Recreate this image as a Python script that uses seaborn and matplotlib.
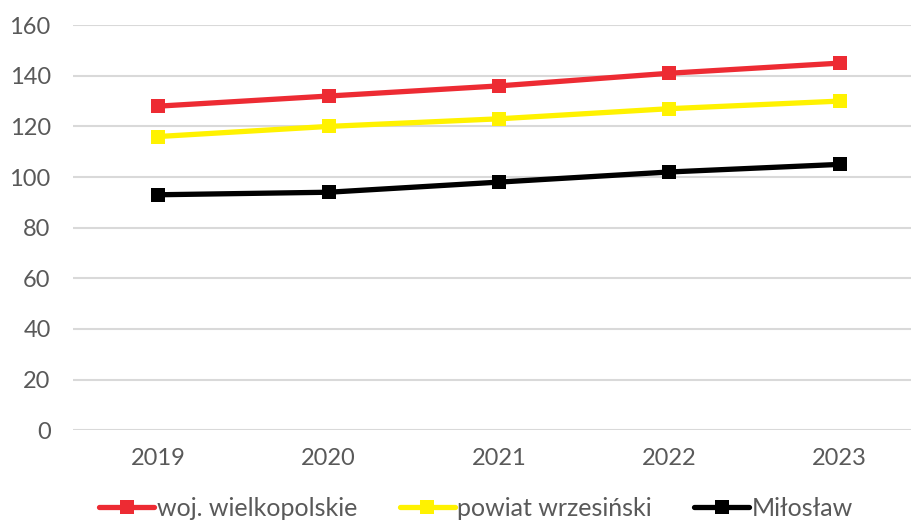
import numpy as np
import pandas as pd
import matplotlib
matplotlib.use("Agg")
import matplotlib.pyplot as plt
import seaborn as sns

years = ["2019", "2020", "2021", "2022", "2023"]
wielkopolskie = [128, 132, 136, 141, 145]
wrzesinski = [116, 120, 123, 127, 130]
miloslaw = [93, 94, 98, 102, 105]
series = ["woj. wielkopolskie", "powiat wrzesiński", "Miłosław"]
colors = ["#ED2B33", "#FFF200", "#000000"]

df = pd.DataFrame({
    "rok": years * 3,
    "wartosc": wielkopolskie + wrzesinski + miloslaw,
    "seria": [series[0]] * 5 + [series[1]] * 5 + [series[2]] * 5,
})

sns.set_style("white")
plt.rcParams["font.family"] = ["Lato", "DejaVu Sans"]

fig = plt.figure(figsize=(9.12, 5.24), dpi=100)
ax = fig.add_axes([0.080, 0.179, 0.934, 0.773])

sns.lineplot(data=df, x="rok", y="wartosc", hue="seria", palette=colors,
             marker="s", markersize=10, markeredgewidth=0, linewidth=3.8,
             dashes=False, ax=ax, legend=False)

ax.set_xlim(-0.5, 4.5)
ax.set_ylim(0, 160)
ax.set_yticks(range(0, 161, 20))
ax.yaxis.grid(True, color="#d9d9d9", linewidth=1.5)
ax.set_axisbelow(True)
for s in ax.spines.values():
    s.set_visible(False)
ax.set_xlabel("")
ax.set_ylabel("")
ax.tick_params(axis="both", length=0, labelsize=17, labelcolor="#595959")
ax.tick_params(axis="x", pad=13)
ax.tick_params(axis="y", pad=16)

handles = [plt.Line2D([], [], color=c, linewidth=3.8, marker="s",
                      markersize=10, markeredgewidth=0) for c in colors]
fig.legend(handles, series, loc="center", bbox_to_anchor=(0.522, 0.03),
           ncol=3, frameon=False, fontsize=18, labelcolor="#595959",
           handlelength=2.2, handletextpad=0.1, columnspacing=1.7,
           borderpad=0.1)

fig.savefig("out.png", dpi=100)
